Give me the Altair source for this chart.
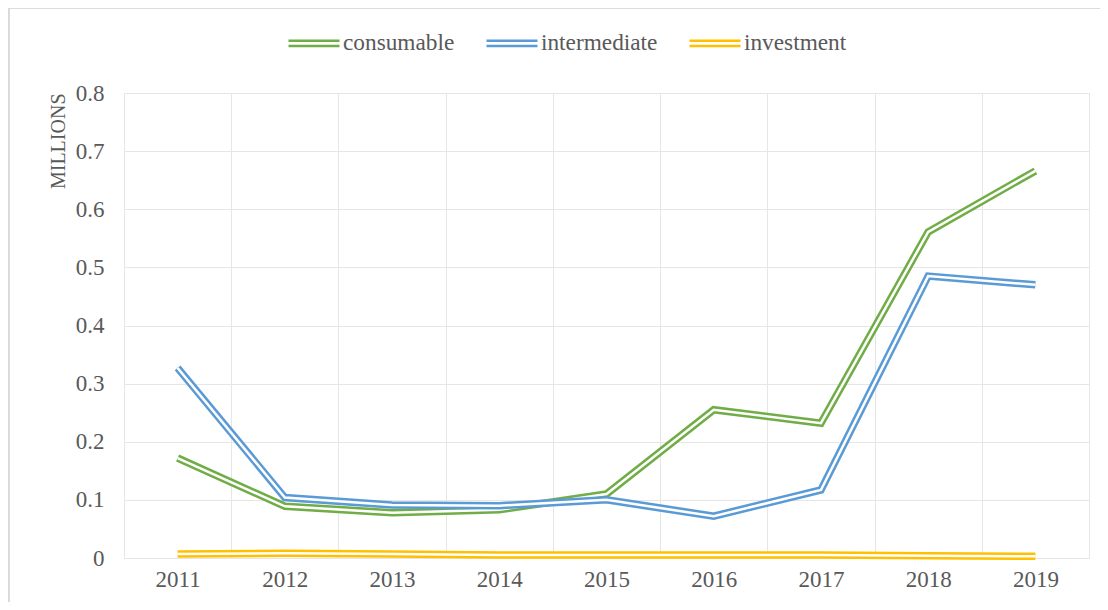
import altair as alt
import pandas as pd

years = [2011, 2012, 2013, 2014, 2015, 2016, 2017, 2018, 2019]
series = ["consumable", "intermediate", "investment"]
consumable = [0.172, 0.089, 0.078, 0.083, 0.110, 0.255, 0.232, 0.561, 0.666]
intermediate = [0.327, 0.104, 0.091, 0.090, 0.100, 0.072, 0.117, 0.485, 0.470]
investment = [0.007, 0.008, 0.007, 0.005, 0.005, 0.005, 0.005, 0.004, 0.003]
colors = ["#70AD47", "#5B9BD5", "#FFC000"]
y_ticks = [0, 0.1, 0.2, 0.3, 0.4, 0.5, 0.6, 0.7, 0.8]

rows = []
for name, vals in zip(series, [consumable, intermediate, investment]):
    for yr, v in zip(years, vals):
        rows.append({"year": yr, "series": name, "value": v})
df = pd.DataFrame(rows)

FONT = "Liberation Serif"
TXT = "#595959"
GRID = "#E6E6E6"
W, H = 965, 465
half_step = W / len(years) / 2

x_enc = alt.X(
    "year:Q",
    scale=alt.Scale(domain=[years[0] - 0.5, years[-1] + 0.5], nice=False, zero=False),
    axis=alt.Axis(
        values=[y - 0.5 for y in years],
        labelExpr="format(datum.value + 0.5, 'd')",
        labelOffset=half_step,
        labelFlush=False,
        labelOverlap=False,
        labelBound=False,
        labelFont=FONT,
        labelFontSize=23,
        labelColor=TXT,
        labelPadding=10,
        ticks=False,
        domain=True,
        domainColor=GRID,
        grid=True,
        gridColor=GRID,
        title=None,
    ),
)
y_enc = alt.Y(
    "value:Q",
    scale=alt.Scale(domain=[0, 0.8], nice=False),
    axis=alt.Axis(
        values=y_ticks,
        format=".1~f",
        labelFont=FONT,
        labelFontSize=23,
        labelColor=TXT,
        labelPadding=20,
        ticks=False,
        domain=False,
        grid=True,
        gridColor=GRID,
        title="MILLIONS",
        titleFont=FONT,
        titleFontSize=20,
        titleFontWeight="normal",
        titleColor=TXT,
        titleX=-66,
        titleY=0,
        titleAngle=270,
        titleAlign="right",
        titleBaseline="middle",
    ),
)

color_enc = alt.Color(
    "series:N",
    scale=alt.Scale(domain=series, range=colors),
    legend=alt.Legend(
        orient="none",
        legendX=163,
        legendY=-77,
        direction="horizontal",
        title=None,
        symbolType="M-1,-0.1H1M-1,0.1H1",
        symbolSize=2601,
        symbolStrokeWidth=2.5,
        labelFont=FONT,
        labelFontSize=23.3,
        labelColor=TXT,
        labelOffset=2,
        columnPadding=26,
        padding=0,
    ),
)

layers = []
base = alt.Chart(df)
for s in series:
    layers.append(
        base.transform_filter(alt.datum.series == s)
        .mark_line(strokeWidth=7.5, strokeJoin="miter")
        .encode(x=x_enc, y=y_enc, color=color_enc)
    )
    layers.append(
        base.transform_filter(alt.datum.series == s)
        .mark_line(strokeWidth=2.5, color="white", strokeJoin="miter")
        .encode(x=x_enc, y=y_enc)
    )

# outer chart-area border (top and left edges visible in the reference)
border_left = base.mark_rule(color="#D9D9D9", strokeWidth=1.5).encode(
    x=alt.value(-115.5), y=alt.value(-85), y2=alt.value(H + 44)
)
border_top = base.mark_rule(color="#D9D9D9", strokeWidth=1.5).encode(
    y=alt.value(-85.5), x=alt.value(-116), x2=alt.value(W + 11)
)

chart = (
    alt.layer(*layers, border_left, border_top)
    .properties(
        width=W,
        height=H,
        autosize=alt.AutoSizeParams(type="none"),
        padding={"left": 116, "top": 85, "right": 11, "bottom": 44},
        background="white",
    )
    .configure_view(stroke=GRID)
)

chart.save("out.html", embed_options={"renderer": "svg", "actions": False})
